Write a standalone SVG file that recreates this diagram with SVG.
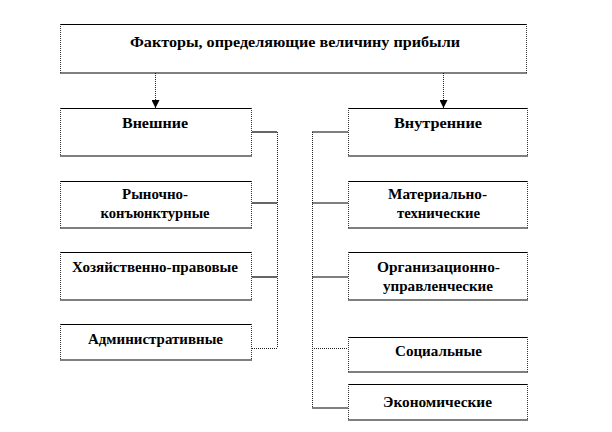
<svg xmlns="http://www.w3.org/2000/svg" width="612" height="432" viewBox="0 0 612 432">
<style>
.bg{fill:#fff;stroke:none}
.tb{fill:none;stroke:#000;stroke-width:1.2}
.sd{fill:none;stroke:#333;stroke-width:1;stroke-dasharray:1 1}
.sol{fill:none;stroke:#000;stroke-width:1.2}
.dot{fill:none;stroke:#222;stroke-width:1;stroke-dasharray:1 1}
.t{font-weight:bold;font-size:14px;fill:#000;text-anchor:middle}
</style>
<defs>
<marker id="ah" markerWidth="8" markerHeight="8" refX="8" refY="4" orient="auto" markerUnits="userSpaceOnUse" viewBox="0 0 8 8">
<path d="M0,0 L8,4 L0,8 Z" fill="#000"/>
</marker>
</defs>
<rect width="612" height="432" fill="#fff"/>
<g id="connectors">
<line class="dot" x1="155.5" y1="73" x2="155.5" y2="108" marker-end="url(#ah)"/>
<line class="dot" x1="443.5" y1="73" x2="443.5" y2="108" marker-end="url(#ah)"/>
<line class="sol" x1="252" y1="132" x2="277" y2="132"/>
<line class="dot" x1="277.5" y1="132" x2="277.5" y2="348"/>
<line class="sol" x1="252" y1="203" x2="277" y2="203"/>
<line class="sol" x1="252" y1="277" x2="277" y2="277"/>
<line class="dot" x1="252" y1="348.5" x2="277" y2="348.5"/>
<line class="sol" x1="312" y1="132" x2="348" y2="132"/>
<line class="dot" x1="312.5" y1="132" x2="312.5" y2="408"/>
<line class="sol" x1="312" y1="203" x2="348" y2="203"/>
<line class="sol" x1="312" y1="277" x2="348" y2="277"/>
<line class="dot" x1="312" y1="348.5" x2="348" y2="348.5"/>
<line class="sol" x1="312" y1="408" x2="348" y2="408"/>
</g>
<g font-family="Liberation Serif, DejaVu Serif, serif">
<g id="n-top">
<rect class="bg" x="60" y="24" width="467" height="49"/>
<path class="tb" d="M60,24.5 H527 M60,73 H527"/>
<path class="sd" d="M60.5,24 V73 M526.5,24 V73"/>
<text class="t" x="295" y="47" textLength="330" lengthAdjust="spacingAndGlyphs">Факторы, определяющие величину прибыли</text>
</g>
<g id="n-ext">
<rect class="bg" x="60" y="108" width="192" height="48"/>
<path class="tb" d="M60,108.5 H252 M60,156 H252"/>
<path class="sd" d="M60.5,108 V156 M251.5,108 V156"/>
<text class="t" x="155" y="128" textLength="66" lengthAdjust="spacingAndGlyphs">Внешние</text>
</g>
<g id="n-market">
<rect class="bg" x="60" y="181" width="192" height="47"/>
<path class="tb" d="M60,181.5 H252 M60,228 H252"/>
<path class="sd" d="M60.5,181 V228 M251.5,181 V228"/>
<text class="t" x="155" y="199" textLength="66" lengthAdjust="spacingAndGlyphs">Рыночно-</text>
<text class="t" x="155" y="218" textLength="109" lengthAdjust="spacingAndGlyphs">конъюнктурные</text>
</g>
<g id="n-econlegal">
<rect class="bg" x="60" y="252" width="192" height="48"/>
<path class="tb" d="M60,252.5 H252 M60,300 H252"/>
<path class="sd" d="M60.5,252 V300 M251.5,252 V300"/>
<text class="t" x="155" y="272" textLength="166" lengthAdjust="spacingAndGlyphs">Хозяйственно-правовые</text>
</g>
<g id="n-admin">
<rect class="bg" x="60" y="324" width="192" height="36"/>
<path class="tb" d="M60,324.5 H252 M60,360 H252"/>
<path class="sd" d="M60.5,324 V360 M251.5,324 V360"/>
<text class="t" x="155.5" y="344" textLength="135" lengthAdjust="spacingAndGlyphs">Административные</text>
</g>
<g id="n-int">
<rect class="bg" x="348" y="108" width="180" height="48"/>
<path class="tb" d="M348,108.5 H528 M348,156 H528"/>
<path class="sd" d="M348.5,108 V156 M527.5,108 V156"/>
<text class="t" x="438" y="128" textLength="88" lengthAdjust="spacingAndGlyphs">Внутренние</text>
</g>
<g id="n-mat">
<rect class="bg" x="348" y="181" width="180" height="47"/>
<path class="tb" d="M348,181.5 H528 M348,228 H528"/>
<path class="sd" d="M348.5,181 V228 M527.5,181 V228"/>
<text class="t" x="437.5" y="199" textLength="99" lengthAdjust="spacingAndGlyphs">Материально-</text>
<text class="t" x="438.5" y="218" textLength="83" lengthAdjust="spacingAndGlyphs">технические</text>
</g>
<g id="n-org">
<rect class="bg" x="348" y="252" width="180" height="48"/>
<path class="tb" d="M348,252.5 H528 M348,300 H528"/>
<path class="sd" d="M348.5,252 V300 M527.5,252 V300"/>
<text class="t" x="438.5" y="272" textLength="123" lengthAdjust="spacingAndGlyphs">Организационно-</text>
<text class="t" x="438" y="291" textLength="110" lengthAdjust="spacingAndGlyphs">управленческие</text>
</g>
<g id="n-soc">
<rect class="bg" x="348" y="337" width="180" height="35"/>
<path class="tb" d="M348,337.5 H528 M348,372 H528"/>
<path class="sd" d="M348.5,337 V372 M527.5,337 V372"/>
<text class="t" x="438.5" y="356" textLength="87" lengthAdjust="spacingAndGlyphs">Социальные</text>
</g>
<g id="n-eco">
<rect class="bg" x="348" y="384" width="180" height="36"/>
<path class="tb" d="M348,384.5 H528 M348,420 H528"/>
<path class="sd" d="M348.5,384 V420 M527.5,384 V420"/>
<text class="t" x="437.5" y="407" textLength="109" lengthAdjust="spacingAndGlyphs">Экономические</text>
</g>
</g>
</svg>
